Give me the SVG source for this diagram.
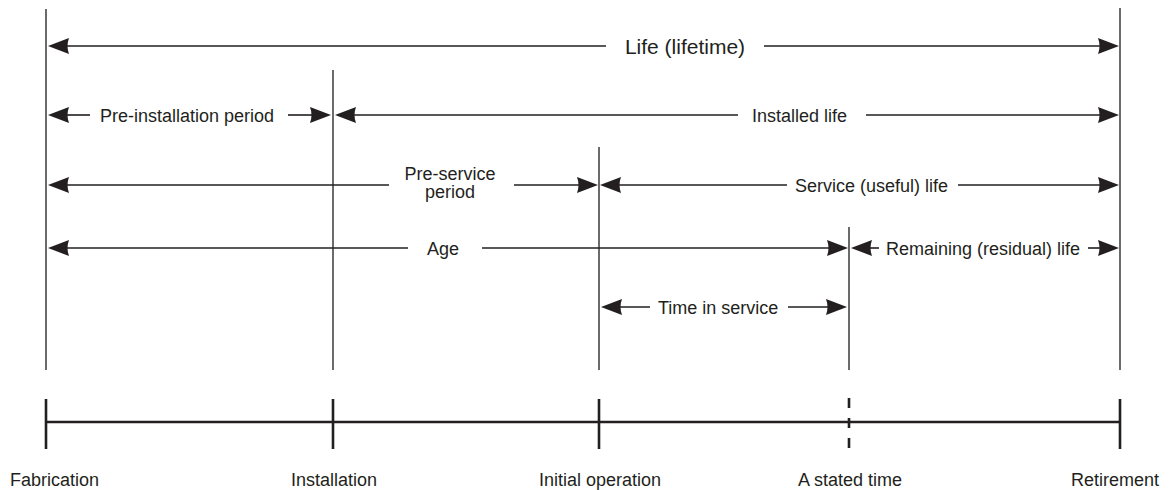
<svg xmlns="http://www.w3.org/2000/svg" xmlns:xlink="http://www.w3.org/1999/xlink" width="1172" height="490" viewBox="0 0 1172 490">
<style>
  text { font-family: "Liberation Sans", Arial, sans-serif; font-size: 18px; fill: #231f20; }
  .big { font-size: 21px; }
  .vline { stroke: #3a3a3a; stroke-width: 1.5; fill: none; }
  .dim { stroke: #231f20; stroke-width: 1.6; fill: none; }
  .axis { stroke: #231f20; stroke-width: 2.6; fill: none; }
  .head { fill: #231f20; }
</style>
<defs>
  <path id="ar" class="head" d="M0,0 L-21,-8 Q-18,0 -21,8 Z"/>
  <path id="al" class="head" d="M0,0 L21,-8 Q18,0 21,8 Z"/>
</defs>
<rect width="1172" height="490" fill="#ffffff"/>

<g id="event-lines">
  <line class="vline" x1="46" y1="9" x2="46" y2="370"/>
  <line class="vline" x1="333" y1="70" x2="333" y2="370"/>
  <line class="vline" x1="599" y1="147" x2="599" y2="370"/>
  <line class="vline" x1="849" y1="227" x2="849" y2="370"/>
  <line class="vline" x1="1120" y1="8" x2="1120" y2="370"/>
</g>

<g id="connectors">
  <!-- Row 1: Life -->
  <line class="dim" x1="60" y1="46" x2="606" y2="46"/>
  <line class="dim" x1="764" y1="46" x2="1106" y2="46"/>
  <use xlink:href="#al" x="48" y="46"/>
  <use xlink:href="#ar" x="1119" y="46"/>
  <!-- Row 2 -->
  <line class="dim" x1="60" y1="115" x2="90" y2="115"/>
  <line class="dim" x1="288" y1="115" x2="318" y2="115"/>
  <use xlink:href="#al" x="48" y="115"/>
  <use xlink:href="#ar" x="331" y="115"/>
  <line class="dim" x1="348" y1="115" x2="738" y2="115"/>
  <line class="dim" x1="866" y1="115" x2="1106" y2="115"/>
  <use xlink:href="#al" x="335" y="115"/>
  <use xlink:href="#ar" x="1119" y="115"/>
  <!-- Row 3 -->
  <line class="dim" x1="60" y1="185" x2="389" y2="185"/>
  <line class="dim" x1="514" y1="185" x2="585" y2="185"/>
  <use xlink:href="#al" x="48" y="185"/>
  <use xlink:href="#ar" x="598" y="185"/>
  <line class="dim" x1="613" y1="185" x2="787" y2="185"/>
  <line class="dim" x1="958" y1="185" x2="1106" y2="185"/>
  <use xlink:href="#al" x="600" y="185"/>
  <use xlink:href="#ar" x="1119" y="185"/>
  <!-- Row 4 -->
  <line class="dim" x1="60" y1="248" x2="408" y2="248"/>
  <line class="dim" x1="482" y1="248" x2="835" y2="248"/>
  <use xlink:href="#al" x="48" y="248"/>
  <use xlink:href="#ar" x="848" y="248"/>
  <line class="dim" x1="864" y1="248" x2="879" y2="248"/>
  <line class="dim" x1="1088" y1="248" x2="1106" y2="248"/>
  <use xlink:href="#al" x="851" y="248"/>
  <use xlink:href="#ar" x="1119" y="248"/>
  <!-- Row 5 -->
  <line class="dim" x1="614" y1="307" x2="650" y2="307"/>
  <line class="dim" x1="788" y1="307" x2="834" y2="307"/>
  <use xlink:href="#al" x="601" y="307"/>
  <use xlink:href="#ar" x="847" y="307"/>
</g>

<g id="labels">
  <text class="big" x="685" y="54" text-anchor="middle">Life (lifetime)</text>
  <text x="100" y="122">Pre-installation period</text>
  <text x="752" y="122">Installed life</text>
  <text x="450" y="180" text-anchor="middle">Pre-service</text>
  <text x="450" y="198" text-anchor="middle">period</text>
  <text x="795" y="192">Service (useful) life</text>
  <text x="443" y="255" text-anchor="middle">Age</text>
  <text x="886" y="255">Remaining (residual) life</text>
  <text x="658" y="314">Time in service</text>
</g>

<g id="timeline">
  <line class="axis" x1="46" y1="422" x2="1120" y2="422"/>
  <line class="axis" x1="46" y1="399" x2="46" y2="449"/>
  <line class="axis" x1="333" y1="399" x2="333" y2="449"/>
  <line class="axis" x1="599" y1="399" x2="599" y2="449"/>
  <line class="axis" x1="849" y1="398" x2="849" y2="449" stroke-dasharray="10,10"/>
  <line class="axis" x1="1120" y1="399" x2="1120" y2="449"/>
</g>

<g id="event-labels">
  <text x="10" y="486">Fabrication</text>
  <text x="334" y="486" text-anchor="middle">Installation</text>
  <text x="600" y="486" text-anchor="middle">Initial operation</text>
  <text x="850" y="486" text-anchor="middle">A stated time</text>
  <text x="1159" y="486" text-anchor="end">Retirement</text>
</g>
</svg>
